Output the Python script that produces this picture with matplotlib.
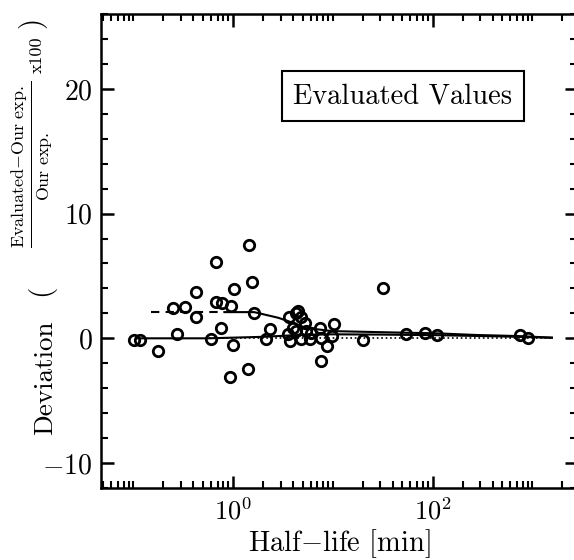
import matplotlib
matplotlib.use("Agg")
import matplotlib.pyplot as plt
from matplotlib.ticker import LogLocator, MultipleLocator, NullFormatter

plt.rcParams['font.family'] = ['cmr10', 'DejaVu Serif']
plt.rcParams['mathtext.fontset'] = 'cm'
plt.rcParams['axes.formatter.use_mathtext'] = True

# half-life [min] and deviation [%] of the evaluated values
halfLife = [0.101, 0.118, 0.179, 0.249, 0.334, 0.277, 0.428, 0.428, 0.68, 0.68,
            0.78, 0.96, 1.02, 0.76, 0.605, 1.0, 1.46, 1.55, 1.63, 2.33,
            2.16, 0.925, 1.42, 7.7, 4.26, 3.62, 4.86, 5.25, 4.01, 3.57,
            4.33, 5.45, 3.71, 4.86, 5.89, 7.42, 6.12, 7.7, 10.4, 9.73,
            8.67, 20.3, 31.9, 54.3, 83.2, 110, 748, 907, 4.53]
deviation = [-0.14, -0.14, -1.04, 2.42, 2.5, 0.37, 3.73, 1.70, 6.09, 2.90,
             2.85, 2.63, 3.96, 0.85, -0.08, -0.53, 7.52, 4.55, 2.05, 0.72,
             -0.02, -3.09, -2.42, -1.81, 1.99, 1.73, 1.73, 1.25, 0.85, 0.32,
             0.58, 0.58, -0.22, -0.08, -0.08, 0.85, 0.45, 0.06, 1.12, 0.18,
             -0.61, -0.14, 4.01, 0.32, 0.45, 0.30, 0.24, 0.02, 2.15]

# smooth trend curves
trendDashX = [0.15, 0.82]
trendDashY = [2.1, 2.1]
trendX = [0.82, 1.63, 2.83, 3.57, 5.25, 9.7, 52.6, 110, 268, 730, 1575]
trendY = [2.1, 2.1, 1.65, 1.38, 0.85, 0.58, 0.45, 0.40, 0.27, 0.18, 0.05]
lowX = [0.11, 0.57, 2.0, 5.0, 10.0, 30.0, 110, 500, 1575]
lowY = [0.0, 0.0, 0.12, 0.28, 0.32, 0.30, 0.25, 0.15, 0.05]
zeroX = [0.57, 1575]
zeroY = [0.0, 0.0]

W, H = 574, 560
fig = plt.figure(figsize=(W / 100, H / 100), dpi=100)
ax = fig.add_axes([101 / W, 72 / H, 1 - 101 / W + 0.005, 474 / H])

ax.plot(trendDashX, trendDashY, color='k', lw=1.5, ls=(0, (4, 3)))
ax.plot(trendX, trendY, color='k', lw=1.5)
ax.plot(lowX, lowY, color='k', lw=1.5)
ax.plot(zeroX, zeroY, color='k', lw=1.2, ls=':')
ax.plot(halfLife, deviation, ls='none', marker='o', ms=7.5, mfc='none',
        mec='k', mew=2.0)

ax.set_xscale('log')
ax.set_xlim(0.0475, 2800)
ax.set_ylim(-12, 26)
ax.xaxis.set_major_locator(LogLocator(base=100))
ax.xaxis.set_minor_locator(LogLocator(base=10, subs=[1, 2, 3, 4, 5, 6, 7, 8, 9], numticks=20))
ax.xaxis.set_minor_formatter(NullFormatter())
ax.yaxis.set_major_locator(MultipleLocator(10))
ax.yaxis.set_minor_locator(MultipleLocator(2))

ax.tick_params(which='both', direction='in', top=True, right=True)
ax.tick_params(axis='y', labelsize=20, pad=6)
ax.tick_params(axis='x', labelsize=19, pad=7)
ax.tick_params(which='major', length=9, width=1.8)
ax.tick_params(which='minor', length=5, width=1.5)
for s in ax.spines.values():
    s.set_linewidth(1.8)

ax.set_xlabel('Half$-$life [min]', fontsize=20.5, labelpad=2)

# y label assembled from pieces (px positions from the reference)
def lab(px, py, s, size):
    fig.text(px / W, 1 - py / H, s, rotation=90, fontsize=size,
             ha='center', va='center')

lab(45, 378, 'Deviation', 19.5)
lab(41, 290, '(', 21)
lab(32, 164, r'$\frac{\mathrm{Evaluated{-}Our\ exp.}}{\mathrm{Our\ exp.}}$', 18.5)
lab(37, 55, 'x100', 13)
lab(32, 22, ')', 21)

ax.text(0.634, 0.827, 'Evaluated Values', transform=ax.transAxes, fontsize=20.5,
        ha='center', va='center',
        bbox=dict(boxstyle='square,pad=0.4', fc='white', ec='k', lw=1.5))

fig.savefig('out.png', dpi=100)
